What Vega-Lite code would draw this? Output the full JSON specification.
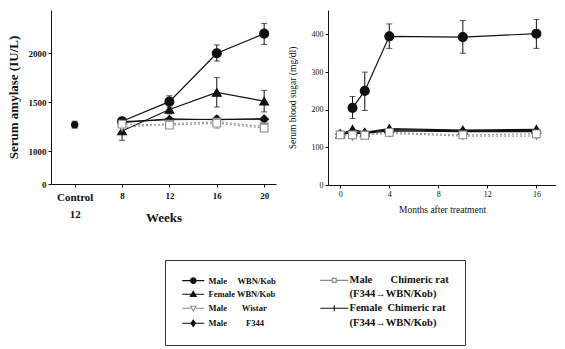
{
  "$schema": "https://vega.github.io/schema/vega-lite/v6.json",
  "padding": {"left": 7, "top": 10, "right": 0, "bottom": 0},
  "config": {
    "font": "Liberation Serif",
    "view": {"stroke": null},
    "axis": {"grid": false, "domainColor": "#111", "tickColor": "#111", "labelColor": "#111", "titleColor": "#111", "labelFont": "Liberation Serif", "titleFont": "Liberation Serif", "tickSize": 3, "labelPadding": 2}
  },
  "datasets": {
    "amy": [
      {"s": "CT", "x": 4, "y": 1270, "lo": 1235, "hi": 1305},
      {"s": "MW", "x": 8, "y": 1305, "lo": 1275, "hi": 1335},
      {"s": "MW", "x": 12, "y": 1505, "lo": 1450, "hi": 1565},
      {"s": "MW", "x": 16, "y": 2000, "lo": 1920, "hi": 2085},
      {"s": "MW", "x": 20, "y": 2200, "lo": 2090, "hi": 2305},
      {"s": "FW", "x": 8, "y": 1205, "lo": 1110, "hi": 1290},
      {"s": "FW", "x": 12, "y": 1425, "lo": 1380, "hi": 1470},
      {"s": "FW", "x": 16, "y": 1600, "lo": 1450, "hi": 1750},
      {"s": "FW", "x": 20, "y": 1510, "lo": 1400, "hi": 1620},
      {"s": "MWi", "x": 8, "y": 1240},
      {"s": "MWi", "x": 12, "y": 1280, "lo": 1230, "hi": 1340},
      {"s": "MWi", "x": 16, "y": 1300, "lo": 1230, "hi": 1360},
      {"s": "MWi", "x": 20, "y": 1250, "lo": 1200, "hi": 1350},
      {"s": "MF", "x": 8, "y": 1300},
      {"s": "MF", "x": 12, "y": 1320},
      {"s": "MF", "x": 16, "y": 1325},
      {"s": "MF", "x": 20, "y": 1325},
      {"s": "MC", "x": 8, "y": 1275},
      {"s": "MC", "x": 12, "y": 1265},
      {"s": "MC", "x": 16, "y": 1285},
      {"s": "MC", "x": 20, "y": 1235},
      {"s": "FC", "x": 8, "y": 1290},
      {"s": "FC", "x": 12, "y": 1330},
      {"s": "FC", "x": 16, "y": 1320},
      {"s": "FC", "x": 20, "y": 1330}
    ],
    "sug": [
      {"s": "MW", "x": 1, "y": 205, "lo": 177, "hi": 235},
      {"s": "MW", "x": 2, "y": 250, "lo": 198, "hi": 300},
      {"s": "MW", "x": 4, "y": 395, "lo": 363, "hi": 428},
      {"s": "MW", "x": 10, "y": 393, "lo": 350, "hi": 437},
      {"s": "MW", "x": 16, "y": 402, "lo": 363, "hi": 440},
      {"s": "FW", "x": 0, "y": 135},
      {"s": "FW", "x": 1, "y": 148},
      {"s": "FW", "x": 2, "y": 140},
      {"s": "FW", "x": 4, "y": 150},
      {"s": "FW", "x": 10, "y": 146},
      {"s": "FW", "x": 16, "y": 148},
      {"s": "MWi", "x": 0, "y": 133},
      {"s": "MWi", "x": 1, "y": 128},
      {"s": "MWi", "x": 2, "y": 134},
      {"s": "MWi", "x": 4, "y": 137},
      {"s": "MWi", "x": 10, "y": 130},
      {"s": "MWi", "x": 16, "y": 130},
      {"s": "MF", "x": 0, "y": 135},
      {"s": "MF", "x": 1, "y": 138},
      {"s": "MF", "x": 2, "y": 137},
      {"s": "MF", "x": 4, "y": 144},
      {"s": "MF", "x": 10, "y": 142},
      {"s": "MF", "x": 16, "y": 142},
      {"s": "MC", "x": 0, "y": 133},
      {"s": "MC", "x": 1, "y": 133},
      {"s": "MC", "x": 2, "y": 132},
      {"s": "MC", "x": 4, "y": 140},
      {"s": "MC", "x": 10, "y": 133},
      {"s": "MC", "x": 16, "y": 136},
      {"s": "FC", "x": 0, "y": 136},
      {"s": "FC", "x": 1, "y": 141},
      {"s": "FC", "x": 2, "y": 140},
      {"s": "FC", "x": 4, "y": 147},
      {"s": "FC", "x": 10, "y": 144},
      {"s": "FC", "x": 16, "y": 145}
    ]
  },
  "spacing": 11,
  "hconcat": [
    {
      "width": 225,
      "height": 174,
      "data": {"name": "amy"},
      "encoding": {
        "x": {"field": "x", "type": "quantitative", "scale": {"domain": [2, 21], "nice": false, "zero": false},
          "axis": {"values": [4, 8, 12, 16, 20], "labelExpr": "datum.value == 4 ? ['Control', '12'] : datum.label", "labelLineHeight": 17,
            "labelFontWeight": "bold", "labelFontSize": {"condition": {"test": "datum.value == 4", "value": 11}, "value": 9},
            "title": "Weeks", "titleFontSize": 13, "titleFontWeight": "bold", "titleY": 27, "labelPadding": 4}},
        "y": {"field": "y", "type": "quantitative", "scale": {"domain": [663, 2442], "nice": false, "zero": false},
          "axis": {"values": [663, 1000, 1500, 2000], "labelExpr": "datum.value < 700 ? '0' : datum.value", "labelFontWeight": "bold", "labelFontSize": 9,
            "title": "Serum amylase (IU/L)", "titleFontSize": 13, "titleFontWeight": "bold", "titlePadding": 8}}
      },
      "layer": [
        {
          "transform": [{"filter": "isValid(datum.lo) && datum.s != 'MWi'"}],
          "mark": {"type": "errorbar", "ticks": {"size": 6}, "thickness": 1, "color": "#111"},
          "encoding": {"y": {"field": "lo", "type": "quantitative", "scale": {"domain": [663, 2442], "nice": false, "zero": false}, "title": "Serum amylase (IU/L)"}, "y2": {"field": "hi"}}
        },
        {
          "transform": [{"filter": "isValid(datum.lo) && datum.s == 'MWi'"}],
          "mark": {"type": "errorbar", "ticks": {"size": 6}, "thickness": 1, "color": "#a0a0a0"},
          "encoding": {"y": {"field": "lo", "type": "quantitative", "scale": {"domain": [663, 2442], "nice": false, "zero": false}, "title": "Serum amylase (IU/L)"}, "y2": {"field": "hi"}}
        },
        {
          "transform": [{"filter": "indexof(['MW','FW','MF','FC'], datum.s) >= 0"}],
          "mark": {"type": "line", "strokeWidth": 1.2, "color": "#111"},
          "encoding": {"detail": {"field": "s", "type": "nominal"}}
        },
        {
          "transform": [{"filter": "indexof(['MWi','MC'], datum.s) >= 0"}],
          "mark": {"type": "line", "strokeWidth": 1.2, "color": "#9a9a9a", "strokeDash": [2, 2]},
          "encoding": {"detail": {"field": "s", "type": "nominal"}}
        },
        {
          "transform": [{"filter": "indexof(['MW','FW','MF','FC'], datum.s) >= 0"}],
          "mark": {"type": "point", "filled": true, "fill": "#111", "stroke": "#111", "strokeWidth": 1.2, "opacity": 1},
          "encoding": {
            "shape": {"field": "s", "type": "nominal", "scale": {"domain": ["MW", "FW", "MF", "FC", "MWi", "MC"], "range": ["circle", "triangle-up", "diamond", "M0,-1V1M-1,0H1", "triangle-down", "square"]}, "legend": null},
            "size": {"field": "s", "type": "nominal", "scale": {"domain": ["MW", "FW", "MF", "FC", "MWi", "MC"], "range": [80, 60, 50, 45, 40, 30]}, "legend": null}
          }
        },
        {
          "transform": [{"filter": "indexof(['MWi','MC'], datum.s) >= 0"}],
          "mark": {"type": "point", "filled": false, "fill": "#fff", "stroke": "#8a8a8a", "strokeWidth": 1.1, "opacity": 1},
          "encoding": {
            "shape": {"field": "s", "type": "nominal", "scale": {"domain": ["MW", "FW", "MF", "FC", "MWi", "MC"], "range": ["circle", "triangle-up", "diamond", "M0,-1V1M-1,0H1", "triangle-down", "square"]}, "legend": null},
            "size": {"field": "s", "type": "nominal", "scale": {"domain": ["MW", "FW", "MF", "FC", "MWi", "MC"], "range": [80, 60, 50, 45, 40, 30]}, "legend": null}
          }
        },
        {
          "transform": [{"filter": "datum.s == 'CT'"}],
          "mark": {"type": "point", "shape": "circle", "filled": true, "color": "#111", "size": 55, "opacity": 1}
        }
      ]
    },
    {
      "width": 228,
      "height": 175,
      "data": {"name": "sug"},
      "encoding": {
        "x": {"field": "x", "type": "quantitative", "scale": {"domain": [-1, 17.6], "nice": false, "zero": false},
          "axis": {"values": [0, 4, 8, 12, 16], "labelFontSize": 8, "title": "Months after treatment", "titleFontSize": 9.5, "titleFontWeight": "normal", "titlePadding": 6}},
        "y": {"field": "y", "type": "quantitative", "scale": {"domain": [0, 465], "nice": false, "zero": false},
          "axis": {"values": [0, 100, 200, 300, 400], "labelFontSize": 8, "title": "Serum blood sugar (mg/dl)", "titleFontSize": 9.5, "titleFontWeight": "normal", "titlePadding": 14}}
      },
      "layer": [
        {
          "transform": [{"filter": "isValid(datum.lo)"}],
          "mark": {"type": "errorbar", "ticks": {"size": 6}, "thickness": 1, "color": "#111"},
          "encoding": {"y": {"field": "lo", "type": "quantitative", "scale": {"domain": [0, 465], "nice": false, "zero": false}, "title": "Serum blood sugar (mg/dl)"}, "y2": {"field": "hi"}}
        },
        {
          "transform": [{"filter": "indexof(['MW','FW','MF','FC'], datum.s) >= 0"}],
          "mark": {"type": "line", "strokeWidth": 1.2, "color": "#111"},
          "encoding": {"detail": {"field": "s", "type": "nominal"}}
        },
        {
          "transform": [{"filter": "indexof(['MWi','MC'], datum.s) >= 0"}],
          "mark": {"type": "line", "strokeWidth": 1.2, "color": "#9a9a9a", "strokeDash": [2, 2]},
          "encoding": {"detail": {"field": "s", "type": "nominal"}}
        },
        {
          "transform": [{"filter": "indexof(['MW','FW','MF','FC'], datum.s) >= 0"}],
          "mark": {"type": "point", "filled": true, "fill": "#111", "stroke": "#111", "strokeWidth": 1.2, "opacity": 1},
          "encoding": {
            "shape": {"field": "s", "type": "nominal", "scale": {"domain": ["MW", "FW", "MF", "FC", "MWi", "MC"], "range": ["circle", "triangle-up", "diamond", "M0,-1V1M-1,0H1", "triangle-down", "square"]}, "legend": null},
            "size": {"field": "s", "type": "nominal", "scale": {"domain": ["MW", "FW", "MF", "FC", "MWi", "MC"], "range": [80, 60, 50, 45, 40, 30]}, "legend": null}
          }
        },
        {
          "transform": [{"filter": "indexof(['MWi','MC'], datum.s) >= 0"}],
          "mark": {"type": "point", "filled": false, "fill": "#fff", "stroke": "#8a8a8a", "strokeWidth": 1.1, "opacity": 1},
          "encoding": {
            "shape": {"field": "s", "type": "nominal", "scale": {"domain": ["MW", "FW", "MF", "FC", "MWi", "MC"], "range": ["circle", "triangle-up", "diamond", "M0,-1V1M-1,0H1", "triangle-down", "square"]}, "legend": null},
            "size": {"field": "s", "type": "nominal", "scale": {"domain": ["MW", "FW", "MF", "FC", "MWi", "MC"], "range": [80, 60, 50, 45, 40, 30]}, "legend": null}
          }
        },
        {
          "mark": {"type": "point", "filled": true, "opacity": 0},
          "encoding": {
            "fill": {"field": "s", "type": "nominal",
              "scale": {"domain": ["MW", "FW", "MWi", "MF", "MC", "P1", "FC", "P2"], "range": ["#111", "#111", "#fff", "#111", "#fff", "transparent", "#111", "transparent"]},
              "legend": {"orient": "none", "legendX": 114, "legendY": 250, "columns": 2, "columnPadding": 42, "rowPadding": 3, "title": null,
                "strokeColor": "#333", "padding": 16, "labelFont": "Liberation Serif", "labelFontWeight": "bold", "labelColor": "#111",
                "labelFontSize": {"expr": "indexof(['MC','P1','FC','P2'], datum.value) >= 0 ? 10.5 : 8.5"},
                "symbolSize": 25, "symbolOffset": 8, "labelOffset": 11, "symbolStrokeWidth": 1.1, "symbolOpacity": 1,
                "symbolType": {"expr": "{'MW':'M-4.4,0H4.4M-1.1,0A1.1,1.1,0,1,0,1.1,0A1.1,1.1,0,1,0,-1.1,0Z','FW':'M-4.4,0H4.4M0,-1.2L1.2,0.9L-1.2,0.9Z','MWi':'M-4.4,0H-1.1M1.1,0H4.4M-1.1,-0.8L1.1,-0.8L0,1.1Z','MF':'M-4.4,0H4.4M0,-1.3L0.9,0L0,1.3L-0.9,0Z','MC':'M-5.6,0H-0.8M0.8,0H5.6M-0.8,-0.8H0.8V0.8H-0.8Z','FC':'M-5.6,0H5.6M0,-1.2V1.2'}[datum.value] || 'M0,0'"},
                "symbolStrokeColor": {"expr": "{'MWi':'#8a8a8a','MC':'#8a8a8a','P1':'transparent','P2':'transparent'}[datum.value] || '#111'"},
                "labelExpr": "{'MW':'Male\u00a0\u00a0\u00a0\u00a0\u00a0WBN/Kob','FW':'Female WBN/Kob','MWi':'Male\u00a0\u00a0\u00a0\u00a0\u00a0\u00a0\u00a0Wistar','MF':'Male\u00a0\u00a0\u00a0\u00a0\u00a0\u00a0\u00a0\u00a0\u00a0F344','MC':'Male\u00a0\u00a0\u00a0\u00a0\u00a0\u00a0\u00a0Chimeric rat','FC':'Female\u00a0\u00a0Chimeric rat','P1':'\u00a0\u00a0\u00a0\u00a0(F344\u2192WBN/Kob)','P2':'\u00a0\u00a0\u00a0\u00a0(F344\u2192WBN/Kob)'}[datum.label]"
              }}
          }
        }
      ]
    }
  ]
}
